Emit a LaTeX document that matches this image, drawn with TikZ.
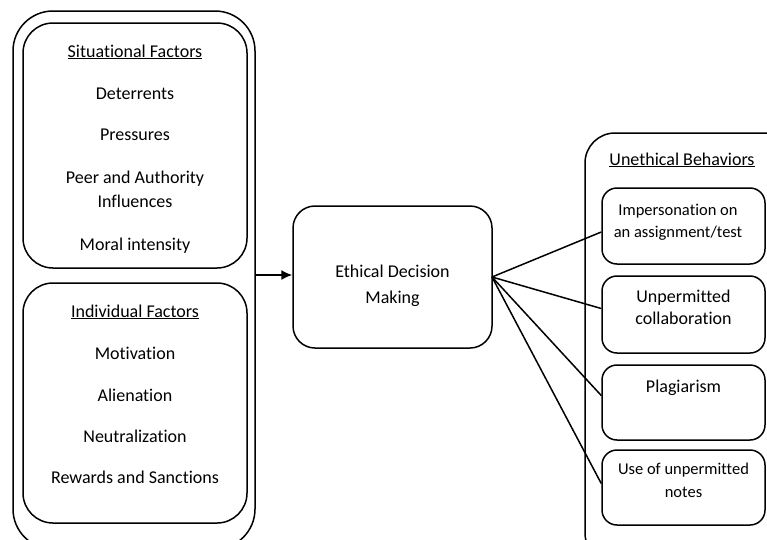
\documentclass[tikz,border=0pt]{standalone}
\usepackage{fontspec}
\setmainfont[Ligatures=NoCommon]{Carlito}
\usetikzlibrary{arrows.meta}
\begin{document}
\begin{tikzpicture}[x=1pt,y=-1pt,
  box/.style={draw,line width=1.5pt,inner sep=0pt},
  lbl/.style={anchor=base,inner sep=0pt,font=\fontsize{18}{21}\selectfont},
  sml/.style={anchor=base,inner sep=0pt,font=\fontsize{16.5}{20}\selectfont},
  conn/.style={line width=1.5pt}]
\useasboundingbox (0,0) rectangle (767,539);
\clip (0,0) rectangle (767,539);
% left container
\node[box,rounded corners=40pt,minimum width=242pt,minimum height=538pt] (outer) at (134,280) {};
\node[box,rounded corners=30pt,minimum width=224pt,minimum height=245pt] (sit) at (135,145.5) {};
\node[box,rounded corners=30pt,minimum width=224pt,minimum height=240pt] (ind) at (135,403) {};
\node[lbl] (s0) at (135,57) {\underline{Situational Factors}};
\node[lbl] (s1) at (135,99) {Deterrents};
\node[lbl] (s2) at (135,140) {Pressures};
\node[lbl] (s3) at (135,183) {Peer and Authority};
\node[lbl] (s4) at (135,207) {Influences};
\node[lbl] (s5) at (135,250) {Moral intensity};
\node[lbl] (i0) at (135,317) {\underline{Individual Factors}};
\node[lbl] (i1) at (135,359) {Motivation};
\node[lbl] (i2) at (135,401) {Alienation};
\node[lbl] (i3) at (135,442) {Neutralization};
\node[lbl] (i4) at (135,483) {Rewards and Sanctions};
% center
\node[box,rounded corners=22pt,minimum width=199pt,minimum height=142pt] (eth) at (392.5,277) {};
\node[lbl] (e1) at (392.5,277) {Ethical Decision};
\node[lbl] (e2) at (392.5,303) {Making};
\coordinate (outR) at (255,275);
\draw[conn,-{Latex[length=11pt,width=10pt]}] (outR) -- (outR -| eth.west);
% right container
\node[box,rounded corners=30pt,minimum width=210pt,minimum height=430pt] (beh) at (690,348) {};
\node[lbl] (b0) at (682,165) {\underline{Unethical Behaviors}};
\node[box,rounded corners=15pt,minimum width=163pt,minimum height=76pt] (b1) at (683.5,226) {};
\node[box,rounded corners=15pt,minimum width=163pt,minimum height=77pt] (b2) at (683.5,314.5) {};
\node[box,rounded corners=15pt,minimum width=163pt,minimum height=75pt] (b3) at (683.5,402.5) {};
\node[box,rounded corners=15pt,minimum width=163pt,minimum height=75pt] (b4) at (683.5,487.5) {};
\node[sml] (t1a) at (678,215) {Impersonation on};
\node[sml] (t1b) at (678,237) {an assignment/test};
\node[lbl] (t2a) at (683.5,302) {Unpermitted};
\node[lbl] (t2b) at (683.5,324) {collaboration};
\node[lbl] (t3) at (683.5,392) {Plagiarism};
\node[sml] (t4a) at (683.5,474) {Use of unpermitted};
\node[sml] (t4b) at (683.5,497) {notes};
\coordinate (src) at (492,277);
\draw[conn] (src) -- ([yshift=-6pt]b1.west);
\draw[conn] (src) -- ([yshift=6pt]b2.west);
\draw[conn] (src) -- ([yshift=7pt]b3.west);
\draw[conn] (src) -- ([yshift=4pt]b4.west);
\end{tikzpicture}
\end{document}
